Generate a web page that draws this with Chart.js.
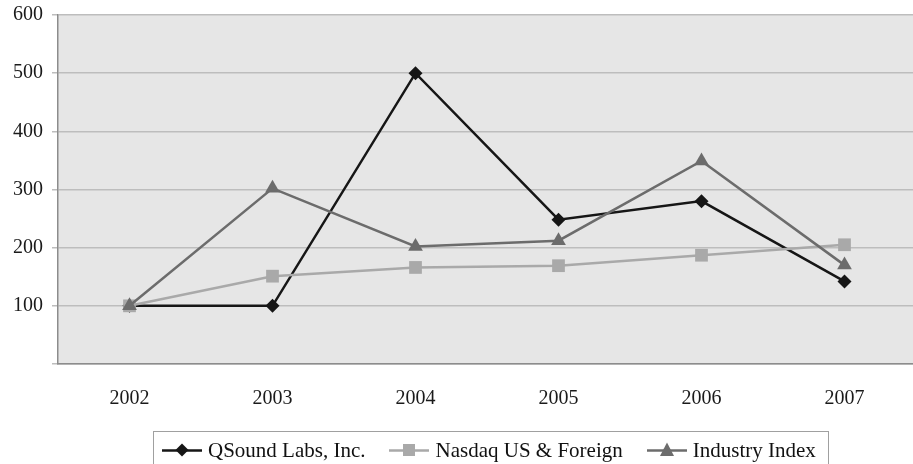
<!DOCTYPE html>
<html>
<head>
<meta charset="utf-8">
<script src="https://cdn.jsdelivr.net/npm/chart.js@4/dist/chart.umd.min.js"></script>
<style>
  html, body { margin: 0; padding: 0; background: #fff; overflow: hidden; }
  #wrap { position: relative; width: 913px; height: 464px; overflow: hidden; }
  #chart { position: absolute; left: 0; top: 0; }
  #legend {
    position: absolute; left: 153px; top: 431px; width: 676px; height: 40px;
    border: 1px solid #a0a0a0; box-sizing: border-box;
    display: flex; align-items: flex-start; padding: 6px 0 0 8px;
    font-family: "Liberation Serif", "Times New Roman", serif; font-size: 21px; color: #111;
    white-space: nowrap;
  }
  .item { display: flex; align-items: center; line-height: 24px; }
  .item svg { margin-right: 6px; }
  .item + .item { margin-left: 24px; }
</style>
</head>
<body>
<div id="wrap">
  <canvas id="chart" width="925" height="464"></canvas>
  <div id="legend"></div>
</div>
<script>
const years = ['2002', '2003', '2004', '2005', '2006', '2007'];
const yTicks = [100, 200, 300, 400, 500, 600];
const qsound = [100, 100, 500, 248, 280, 142];
const nasdaq = [100, 151, 166, 169, 187, 205];
const industry = [100, 302, 202, 212, 349, 170];

const seriesNames = ['QSound Labs, Inc.', 'Nasdaq US & Foreign', 'Industry Index'];
const seriesColors = ['#161616', '#a9a9a9', '#6c6c6c'];
const seriesMarkers = ['rectRot', 'rect', 'triangle'];
const seriesRadius = [7, 9, 8.5];

// grey fill behind the plotting area
const plotBackground = {
  id: 'plotBackground',
  beforeDraw(chart) {
    const { ctx, chartArea: a } = chart;
    ctx.save();
    ctx.fillStyle = '#e6e6e6';
    ctx.fillRect(a.left, a.top, a.right - a.left, a.bottom - a.top);
    ctx.restore();
  }
};

const serif = "'Liberation Serif', 'Times New Roman', serif";

new Chart(document.getElementById('chart'), {
  type: 'line',
  data: {
    labels: years,
    datasets: [qsound, nasdaq, industry].map((values, i) => ({
      label: seriesNames[i],
      data: values,
      borderColor: seriesColors[i],
      backgroundColor: seriesColors[i],
      borderWidth: 2.5,
      pointStyle: seriesMarkers[i],
      pointRadius: seriesRadius[i],
      pointBorderWidth: 0,
      tension: 0
    })).reverse()
  },
  options: {
    responsive: false,
    animation: false,
    layout: { padding: { top: 15, right: 1, left: 0, bottom: 0 } },
    plugins: { legend: { display: false }, tooltip: { enabled: false } },
    scales: {
      x: {
        offset: true,
        grid: { display: false, drawTicks: false },
        border: { color: '#8c8c8c', width: 1.5 },
        ticks: { color: '#1a1a1a', font: { family: serif, size: 20 }, padding: 23 },
        afterFit(scale) { scale.height = 100; }
      },
      y: {
        min: 0, max: 600,
        afterBuildTicks(scale) { scale.ticks = [0].concat(yTicks).map(v => ({ value: v })); },
        grid: { color: '#bdbdbd', lineWidth: 1.5, tickLength: 6, tickColor: '#bdbdbd' },
        border: { color: '#8c8c8c', width: 1.5 },
        ticks: {
          color: '#1a1a1a', font: { family: serif, size: 20 }, padding: 9,
          callback: v => (v === 0 ? '' : String(v))
        },
        afterFit(scale) {
          scale.width = 58;
          scale.paddingTop = 0;
          scale.paddingBottom = 0;
        }
      }
    }
  },
  plugins: [plotBackground]
});

// legend entries: a short line with the series marker on it, then the name
function glyph(i) {
  const c = seriesColors[i];
  let mark;
  if (i === 0) mark = `<polygon points="20,1.5 26.5,8 20,14.5 13.5,8" fill="${c}"/>`;
  else if (i === 1) mark = `<rect x="14" y="2" width="12" height="12" fill="${c}"/>`;
  else mark = `<polygon points="20,0.5 27,14 13,14" fill="${c}"/>`;
  return `<svg width="40" height="16" viewBox="0 0 40 16"><line x1="0" y1="8.5" x2="40" y2="8.5" stroke="${c}" stroke-width="2.5"/>${mark}</svg>`;
}
document.getElementById('legend').innerHTML = seriesNames
  .map((n, i) => `<div class="item">${glyph(i)}<span>${n}</span></div>`).join('');
</script>
</body>
</html>
